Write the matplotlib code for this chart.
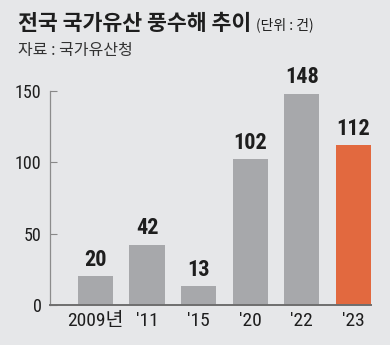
import matplotlib
matplotlib.use("Agg")
import matplotlib.pyplot as plt
from matplotlib import font_manager

# 데이터
years = ["2009년", "'11", "'15", "'20", "'22", "'23"]
damages = [20, 42, 13, 102, 148, 112]
y_ticks = [0, 50, 100, 150]

BG = "#e6e7e9"
GRAY = "#a7a8ab"
ORANGE = "#e2693f"
TEXT = "#1e1e1e"

# 숫자용 좁은 글꼴 고르기
fonts = font_manager.fontManager.ttflist
names = {f.name for f in fonts}
stretch = "normal"
if "Roboto Condensed" in names:
    narrow = "Roboto Condensed"
elif "Liberation Sans Narrow" in names:
    narrow = "Liberation Sans Narrow"
elif any(f.name == "DejaVu Sans" and f.stretch == "condensed" for f in fonts):
    narrow = "DejaVu Sans"
    stretch = "condensed"
else:
    narrow = "Roboto"
num_fonts = [narrow, "Noto Sans CJK KR", "DejaVu Sans"]
kr_fonts = ["Noto Sans CJK KR", "DejaVu Sans"]

fig = plt.figure(figsize=(3.9, 3.45), dpi=100, facecolor=BG)
ax = fig.add_axes([50 / 390, 1 - 305 / 345, 321 / 390, 214 / 345])
ax.set_facecolor(BG)

colors = [GRAY] * (len(years) - 1) + [ORANGE]
x = list(range(len(years)))
ax.bar(x, damages, width=0.68, color=colors, zorder=2)

for xi, v in zip(x, damages):
    ax.text(xi, v + 4, str(v), ha="center", va="bottom", fontsize=16,
            fontweight="bold", fontstretch=stretch, color=TEXT,
            family=num_fonts, clip_on=False)

ax.set_xlim(-0.88, 5.34)
ax.set_ylim(0, 150)
ax.set_yticks(y_ticks)
ax.set_yticklabels([str(t) for t in y_ticks], family=num_fonts,
                   fontstretch=stretch, fontsize=13, color=TEXT)
ax.set_xticks(x)
ax.set_xticklabels(years, family=num_fonts, fontstretch=stretch,
                   fontsize=14, color=TEXT)
ax.tick_params(axis="y", direction="in", length=5, width=0.8, color="#888888", pad=6)
ax.tick_params(axis="x", length=0, pad=5)

for s in ["top", "right"]:
    ax.spines[s].set_visible(False)
ax.spines["left"].set_color("#8c8c8c")
ax.spines["left"].set_linewidth(0.9)
ax.spines["bottom"].set_color("#6e6e6e")
ax.spines["bottom"].set_linewidth(1.4)

# 제목과 출처
fig.text(18 / 390, 1 - 24 / 345, "전국 국가유산 풍수해 추이", family=kr_fonts,
         fontsize=15.6, fontweight="bold", color=TEXT, va="center", ha="left")
fig.text(256 / 390, 1 - 25 / 345, "(단위 : 건)", family=kr_fonts,
         fontsize=10, color=TEXT, va="center", ha="left")
fig.text(18 / 390, 1 - 51 / 345, "자료 : 국가유산청", family=kr_fonts,
         fontsize=11.5, color="#333333", va="center", ha="left")

fig.savefig("out.png", dpi=100, facecolor=BG)
